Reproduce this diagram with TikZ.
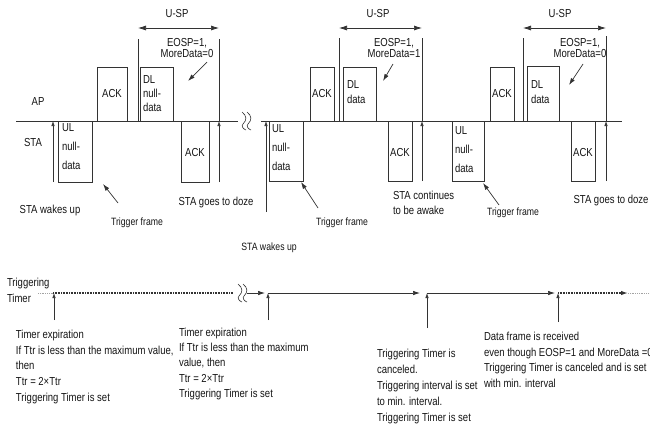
\documentclass[tikz,border=0pt]{standalone}
\usepackage{fontspec}
\setmainfont{Liberation Sans}[FakeStretch=0.82]
\usetikzlibrary{arrows.meta}
\definecolor{ink}{gray}{0.08}
\definecolor{lin}{gray}{0.2}
\begin{document}
\begin{tikzpicture}[x=1pt,y=-1pt,
  every node/.style={font=\fontsize{11.6}{13}\selectfont, text=ink, inner sep=0pt, outer sep=0pt},
  frame/.style={draw=lin, line width=0.7pt, anchor=north west},
  ln/.style={draw=lin, line width=0.7pt},
  upar/.style={ln, -{Latex[length=5pt,width=3.5pt]}},
  dblar/.style={ln, {Latex[length=8pt,width=5pt]}-{Latex[length=8pt,width=5pt]}},
  ptr/.style={ln, -{Latex[length=7pt,width=4.5pt]}},
  txt/.style={align=left, anchor=north west},
  smalltxt/.style={font=\fontsize{10.6}{12}\selectfont},
  wig/.style={draw=lin, line width=0.6pt},
  heavydot/.style={draw=lin, line width=1.3pt, dash pattern=on 1pt off 0.6pt},
  lightdot/.style={draw=lin!45, line width=1pt, dash pattern=on 1pt off 0.8pt},
  squig/.pic={
    \foreach \dx in {0,5} {
      \draw[wig] (\dx,-9) .. controls (\dx+5,-5) and (\dx+5,-1) .. (\dx+1,3) .. controls (\dx-1,5) and (\dx+1,8) .. (\dx+4,9);
    }
  }
]
\useasboundingbox (0,0) rectangle (650,429);

% ---------- main time line ----------
\coordinate (L0) at (16,121);
\coordinate (L1) at (238,121);
\coordinate (L2) at (261,121);
\coordinate (L3) at (622,121);
\draw[ln] (L0) -- (L1);
\draw[ln] (L2) -- (L3);
\pic at (242,121) {squig};

\node (ap) at (38,102) {AP};
\node (sta) at (33,143) {STA};

% ---------- cycle 1 ----------
\node[frame, minimum width=34pt, minimum height=61pt] (ul1) at (58,121) {};
\node[txt, font=\fontsize{11.6}{19}\selectfont] (ul1t) at (62,124) {UL\\null-\\data};
\node[frame, minimum width=30pt, minimum height=54pt] (ackap1) at (97,67) {};
\node (ackap1t) at (ackap1.center) {ACK};
\node[frame, minimum width=33pt, minimum height=54pt] (dl1) at (140,67) {};
\node[txt, font=\fontsize{11.6}{14}\selectfont] (dl1t) at (143,76) {DL\\null-\\data};
\node[frame, minimum width=28pt, minimum height=61pt] (acksta1) at (181,121) {};
\node (acksta1t) at (195,153) {ACK};

\coordinate (w1a) at (53,182); \coordinate (w1b) at (53,121);
\draw[upar] (w1a) -- (w1b);
\coordinate (s1a) at (138,39); \coordinate (s1b) at (138,121);
\draw[ln] (s1a) -- (s1b);
\coordinate (e1a) at (219,39); \coordinate (e1b) at (219,121); \coordinate (e1c) at (219,182);
\draw[ln] (e1a) -- (e1b);
\draw[upar] (e1c) -- (e1b);
\coordinate (u1a) at (138,28); \coordinate (u1b) at (219,28);
\draw[dblar] (u1a) -- (u1b);
\node (usp1) at (177,14) {U-SP};
\node[align=center, font=\fontsize{11.6}{11.5}\selectfont] (eosp1) at (187,48) {EOSP=1,\\MoreData=0};
\coordinate (p1a) at (207,62); \coordinate (p1b) at (188,81);
\draw[ptr] (p1a) -- (p1b);
\node[smalltxt] (tf1) at (137,223) {Trigger frame};
\coordinate (t1a) at (118,203); \coordinate (t1b) at (103,184);
\draw[ptr] (t1a) -- (t1b);
\node (wk1) at (50,210) {STA wakes up};
\node (dz1) at (216,202) {STA goes to doze};

% ---------- cycle 2 ----------
\coordinate (w2a) at (266,212); \coordinate (w2b) at (266,121);
\draw[upar] (w2a) -- (w2b);
\node[frame, minimum width=34pt, minimum height=60pt] (ul2) at (269,121) {};
\node[txt, font=\fontsize{11.6}{19}\selectfont] (ul2t) at (272,125) {UL\\null-\\data};
\node[frame, minimum width=24pt, minimum height=54pt] (ackap2) at (310,67) {};
\node (ackap2t) at (ackap2.center) {ACK};
\node[frame, minimum width=33pt, minimum height=54pt] (dl2) at (343,67) {};
\node[txt, font=\fontsize{11.6}{15}\selectfont] (dl2t) at (347,81) {DL\\data};
\node[frame, minimum width=24pt, minimum height=60pt] (acksta2) at (388,121) {};
\node (acksta2t) at (400,153) {ACK};

\coordinate (s2a) at (339,38); \coordinate (s2b) at (339,121);
\draw[ln] (s2a) -- (s2b);
\coordinate (e2a) at (422,38); \coordinate (e2b) at (422,121); \coordinate (e2c) at (422,181);
\draw[ln] (e2a) -- (e2b);
\draw[upar] (e2c) -- (e2b);
\coordinate (u2a) at (339,28); \coordinate (u2b) at (422,28);
\draw[dblar] (u2a) -- (u2b);
\node (usp2) at (378,14) {U-SP};
\node[align=center, font=\fontsize{11.6}{11.5}\selectfont] (eosp2) at (394,48) {EOSP=1,\\MoreData=1};
\coordinate (p2a) at (393,64); \coordinate (p2b) at (383,81);
\draw[ptr] (p2a) -- (p2b);
\node[smalltxt] (tf2) at (342,223) {Trigger frame};
\coordinate (t2a) at (318,208); \coordinate (t2b) at (301,182);
\draw[ptr] (t2a) -- (t2b);
\node[smalltxt] (wk2) at (269,248) {STA wakes up};
\node[txt, font=\fontsize{11.6}{15}\selectfont] (aw2) at (393,191) {STA continues\\to be awake};

% ---------- cycle 3 ----------
\node[frame, minimum width=32pt, minimum height=60pt] (ul3) at (452,121) {};
\node[txt, font=\fontsize{11.6}{19}\selectfont] (ul3t) at (455,127) {UL\\null-\\data};
\node[frame, minimum width=24pt, minimum height=54pt] (ackap3) at (490,67) {};
\node (ackap3t) at (ackap3.center) {ACK};
\node[frame, minimum width=32pt, minimum height=55pt] (dl3) at (527,66) {};
\node[txt, font=\fontsize{11.6}{15}\selectfont] (dl3t) at (531,81) {DL\\data};
\node[frame, minimum width=24pt, minimum height=60pt] (acksta3) at (571,121) {};
\node (acksta3t) at (583,153) {ACK};

\coordinate (s3a) at (523,38); \coordinate (s3b) at (523,121);
\draw[ln] (s3a) -- (s3b);
\coordinate (e3a) at (606,36); \coordinate (e3b) at (606,121); \coordinate (e3c) at (606,181);
\draw[ln] (e3a) -- (e3b);
\draw[upar] (e3c) -- (e3b);
\coordinate (u3a) at (523,28); \coordinate (u3b) at (606,28);
\draw[dblar] (u3a) -- (u3b);
\node (usp3) at (560,14) {U-SP};
\node[align=center, font=\fontsize{11.6}{11.5}\selectfont] (eosp3) at (580,48) {EOSP=1,\\MoreData=0};
\coordinate (p3a) at (583,64); \coordinate (p3b) at (569,85);
\draw[ptr] (p3a) -- (p3b);
\node[smalltxt] (tf3) at (513,213) {Trigger frame};
\coordinate (t3a) at (499,205); \coordinate (t3b) at (483,183);
\draw[ptr] (t3a) -- (t3b);
\node (dz3) at (611,200) {STA goes to doze};

% ---------- triggering timer ----------
\node[txt, font=\fontsize{11.6}{16}\selectfont] (tt) at (7,278) {Triggering\\Timer};
\coordinate (T0) at (38,293);
\coordinate (T1) at (53,293);
\coordinate (T2) at (233,293);
\coordinate (T3) at (247,293);
\coordinate (T4) at (265,293);
\coordinate (T5) at (268,293);
\coordinate (T6) at (420,293);
\coordinate (T7) at (427,293);
\coordinate (T8) at (555,293);
\coordinate (T9) at (558,293);
\coordinate (T10) at (628,293);
\coordinate (T11) at (650,293);
\draw[lightdot] (T0) -- (T1);
\draw[heavydot] (T1) -- (T2);
\pic at (238,293) {squig};
\draw[ptr] (T3) -- (T4);
\draw[ptr] (T5) -- (T6);
\draw[ptr] (T7) -- (T8);
\draw[heavydot, -{Latex[length=7pt,width=4.5pt]}] (T9) -- (T10);
\draw[lightdot] (T10) -- (T11);

\coordinate (a1) at (54,320); \coordinate (a1b) at (54,293);
\draw[upar] (a1) -- (a1b);
\coordinate (a2) at (268,320);
\draw[upar] (a2) -- (T5);
\coordinate (a3) at (427,328);
\draw[upar] (a3) -- (T7);
\coordinate (a4) at (558,322);
\draw[upar] (a4) -- (T9);

\node[txt, font=\fontsize{11.6}{15.75}\selectfont] (b1) at (16,330) {Timer expiration\\If Ttr is less than the maximum value,\\then\\Ttr = 2×Ttr\\Triggering Timer is set};
\node[txt, font=\fontsize{11.6}{15.25}\selectfont] (b2) at (179,328) {Timer expiration\\If Ttr is less than the maximum\\value, then\\Ttr = 2×Ttr\\Triggering Timer is set};
\node[txt, font=\fontsize{11.6}{16}\selectfont] (b3) at (377,349) {Triggering Timer is\\canceled.\\Triggering interval is set\\to min. interval.\\Triggering Timer is set};
\node[txt, font=\fontsize{11.6}{15.7}\selectfont] (b4) at (484,332) {Data frame is received\\even though EOSP=1 and MoreData =0\\Triggering Timer is canceled and is set\\with min. interval};
\end{tikzpicture}
\end{document}
